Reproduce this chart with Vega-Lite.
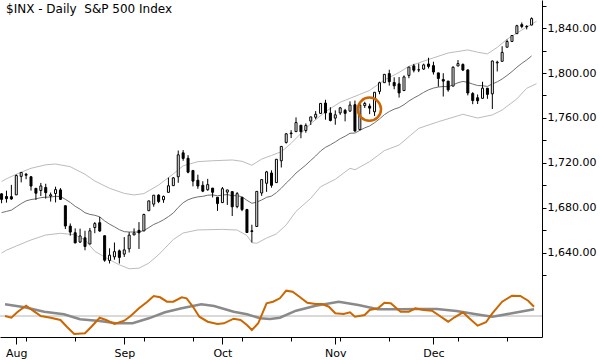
{
  "$schema": "https://vega.github.io/schema/vega-lite/v6.json",
  "width": 542,
  "height": 337,
  "autosize": {"type": "none"},
  "padding": {"left": 0, "top": 0, "right": 58, "bottom": 23},
  "background": "white",
  "config": {"view": {"stroke": null}, "font": "DejaVu Sans"},
  "datasets": {
    "ohlc": [
      {"i": -1, "d": "2013-07-29", "o": 1692.57, "h": 1693.16, "l": 1684.23, "c": 1687.65, "m": 1675.9},
      {"i": 0, "d": "2013-07-30", "o": 1690.2, "h": 1695.39, "l": 1684.78, "c": 1688.27, "m": 1676.98},
      {"i": 1, "d": "2013-07-31", "o": 1690.04, "h": 1700.55, "l": 1687.27, "c": 1688.04, "m": 1678.07},
      {"i": 2, "d": "2013-08-01", "o": 1691.68, "h": 1709.83, "l": 1691.68, "c": 1708.86, "m": 1681.02},
      {"i": 3, "d": "2013-08-02", "o": 1708.11, "h": 1711.62, "l": 1702.77, "c": 1711.62, "m": 1683.88},
      {"i": 4, "d": "2013-08-05", "o": 1709.99, "h": 1711.2, "l": 1705.6, "c": 1709.13, "m": 1686.34},
      {"i": 5, "d": "2013-08-06", "o": 1707.8, "h": 1707.8, "l": 1695.49, "c": 1699.51, "m": 1687.52},
      {"i": 6, "d": "2013-08-07", "o": 1697.47, "h": 1697.47, "l": 1687.23, "c": 1693.15, "m": 1688.11},
      {"i": 7, "d": "2013-08-08", "o": 1695.55, "h": 1702.28, "l": 1690.65, "c": 1699.62, "m": 1689.2},
      {"i": 8, "d": "2013-08-09", "o": 1698.26, "h": 1701.53, "l": 1688.33, "c": 1693.65, "m": 1689.59},
      {"i": 9, "d": "2013-08-12", "o": 1690.64, "h": 1693.72, "l": 1685.7, "c": 1691.73, "m": 1689.79},
      {"i": 10, "d": "2013-08-13", "o": 1692.89, "h": 1698.96, "l": 1684.98, "c": 1696.35, "m": 1690.38},
      {"i": 11, "d": "2013-08-14", "o": 1696.07, "h": 1697.69, "l": 1687.16, "c": 1687.71, "m": 1690.18},
      {"i": 12, "d": "2013-08-15", "o": 1682.02, "h": 1682.02, "l": 1661.31, "c": 1664.0, "m": 1687.72},
      {"i": 13, "d": "2013-08-16", "o": 1663.9, "h": 1666.25, "l": 1655.42, "c": 1658.59, "m": 1684.96},
      {"i": 14, "d": "2013-08-19", "o": 1658.02, "h": 1661.89, "l": 1648.71, "c": 1648.97, "m": 1681.51},
      {"i": 15, "d": "2013-08-20", "o": 1649.71, "h": 1661.64, "l": 1648.99, "c": 1655.16, "m": 1678.95},
      {"i": 16, "d": "2013-08-21", "o": 1653.5, "h": 1659.74, "l": 1642.44, "c": 1645.76, "m": 1675.8},
      {"i": 17, "d": "2013-08-22", "o": 1647.95, "h": 1662.26, "l": 1647.95, "c": 1659.71, "m": 1674.32},
      {"i": 18, "d": "2013-08-23", "o": 1662.62, "h": 1667.48, "l": 1657.59, "c": 1666.15, "m": 1673.54},
      {"i": 19, "d": "2013-08-26", "o": 1666.93, "h": 1672.07, "l": 1658.78, "c": 1659.53, "m": 1672.16},
      {"i": 20, "d": "2013-08-27", "o": 1655.35, "h": 1655.35, "l": 1632.21, "c": 1633.62, "m": 1668.51},
      {"i": 21, "d": "2013-08-28", "o": 1633.39, "h": 1644.16, "l": 1630.66, "c": 1638.04, "m": 1665.66},
      {"i": 22, "d": "2013-08-29", "o": 1636.6, "h": 1649.31, "l": 1634.02, "c": 1641.2, "m": 1663.29},
      {"i": 23, "d": "2013-08-30", "o": 1641.91, "h": 1643.08, "l": 1630.66, "c": 1636.08, "m": 1660.73},
      {"i": 24, "d": "2013-09-03", "o": 1639.01, "h": 1654.18, "l": 1636.51, "c": 1642.77, "m": 1658.96},
      {"i": 25, "d": "2013-09-04", "o": 1643.71, "h": 1658.48, "l": 1640.45, "c": 1655.88, "m": 1658.66},
      {"i": 26, "d": "2013-09-05", "o": 1656.08, "h": 1661.88, "l": 1655.87, "c": 1657.85, "m": 1658.66},
      {"i": 27, "d": "2013-09-06", "o": 1660.18, "h": 1667.46, "l": 1643.61, "c": 1657.94, "m": 1658.56},
      {"i": 28, "d": "2013-09-09", "o": 1659.6, "h": 1674.91, "l": 1659.6, "c": 1674.23, "m": 1660.04},
      {"i": 29, "d": "2013-09-10", "o": 1677.58, "h": 1686.43, "l": 1677.58, "c": 1686.33, "m": 1662.6},
      {"i": 30, "d": "2013-09-11", "o": 1683.42, "h": 1691.39, "l": 1681.12, "c": 1691.39, "m": 1665.36},
      {"i": 31, "d": "2013-09-12", "o": 1691.47, "h": 1692.22, "l": 1684.33, "c": 1685.77, "m": 1667.23},
      {"i": 32, "d": "2013-09-13", "o": 1687.36, "h": 1691.0, "l": 1684.59, "c": 1690.27, "m": 1669.5},
      {"i": 33, "d": "2013-09-16", "o": 1693.92, "h": 1706.98, "l": 1693.92, "c": 1699.74, "m": 1672.35},
      {"i": 34, "d": "2013-09-17", "o": 1699.86, "h": 1707.54, "l": 1699.86, "c": 1706.79, "m": 1675.6},
      {"i": 35, "d": "2013-09-18", "o": 1707.75, "h": 1731.1, "l": 1702.44, "c": 1727.24, "m": 1680.53},
      {"i": 36, "d": "2013-09-19", "o": 1729.03, "h": 1731.51, "l": 1722.0, "c": 1724.1, "m": 1684.66},
      {"i": 37, "d": "2013-09-20", "o": 1724.2, "h": 1726.95, "l": 1710.86, "c": 1711.86, "m": 1687.33},
      {"i": 38, "d": "2013-09-23", "o": 1713.37, "h": 1713.37, "l": 1699.24, "c": 1703.91, "m": 1688.9},
      {"i": 39, "d": "2013-09-24", "o": 1704.66, "h": 1709.62, "l": 1697.07, "c": 1699.56, "m": 1689.89},
      {"i": 40, "d": "2013-09-25", "o": 1700.15, "h": 1703.78, "l": 1694.1, "c": 1694.98, "m": 1690.38},
      {"i": 41, "d": "2013-09-26", "o": 1696.24, "h": 1705.89, "l": 1695.31, "c": 1700.79, "m": 1691.36},
      {"i": 42, "d": "2013-09-27", "o": 1697.69, "h": 1697.69, "l": 1689.4, "c": 1693.97, "m": 1691.66},
      {"i": 43, "d": "2013-09-30", "o": 1689.55, "h": 1689.55, "l": 1677.47, "c": 1683.93, "m": 1690.87},
      {"i": 44, "d": "2013-10-01", "o": 1684.77, "h": 1698.7, "l": 1684.44, "c": 1697.18, "m": 1691.46},
      {"i": 45, "d": "2013-10-02", "o": 1694.12, "h": 1696.06, "l": 1682.73, "c": 1696.06, "m": 1691.95},
      {"i": 46, "d": "2013-10-03", "o": 1694.56, "h": 1694.56, "l": 1672.9, "c": 1681.08, "m": 1690.87},
      {"i": 47, "d": "2013-10-04", "o": 1681.21, "h": 1694.16, "l": 1679.77, "c": 1692.74, "m": 1691.07},
      {"i": 48, "d": "2013-10-07", "o": 1689.44, "h": 1689.44, "l": 1677.18, "c": 1678.58, "m": 1689.89},
      {"i": 49, "d": "2013-10-08", "o": 1678.68, "h": 1679.24, "l": 1657.8, "c": 1658.22, "m": 1686.83},
      {"i": 50, "d": "2013-10-09", "o": 1659.74, "h": 1665.13, "l": 1649.37, "c": 1659.15, "m": 1684.17},
      {"i": 51, "d": "2013-10-10", "o": 1663.56, "h": 1694.77, "l": 1663.56, "c": 1694.77, "m": 1685.25},
      {"i": 52, "d": "2013-10-11", "o": 1693.32, "h": 1705.49, "l": 1690.79, "c": 1705.25, "m": 1687.13},
      {"i": 53, "d": "2013-10-14", "o": 1701.96, "h": 1712.96, "l": 1694.35, "c": 1712.09, "m": 1689.49},
      {"i": 54, "d": "2013-10-15", "o": 1711.13, "h": 1713.5, "l": 1698.09, "c": 1700.19, "m": 1690.58},
      {"i": 55, "d": "2013-10-16", "o": 1702.58, "h": 1723.53, "l": 1702.58, "c": 1723.32, "m": 1693.63},
      {"i": 56, "d": "2013-10-17", "o": 1721.97, "h": 1735.05, "l": 1716.01, "c": 1734.75, "m": 1697.57},
      {"i": 57, "d": "2013-10-18", "o": 1738.27, "h": 1746.73, "l": 1737.3, "c": 1745.93, "m": 1702.2},
      {"i": 58, "d": "2013-10-21", "o": 1746.62, "h": 1749.17, "l": 1742.16, "c": 1746.09, "m": 1706.34},
      {"i": 59, "d": "2013-10-22", "o": 1747.88, "h": 1760.54, "l": 1747.88, "c": 1755.95, "m": 1711.06},
      {"i": 60, "d": "2013-10-23", "o": 1753.59, "h": 1753.59, "l": 1741.99, "c": 1747.78, "m": 1714.61},
      {"i": 61, "d": "2013-10-24", "o": 1748.87, "h": 1755.23, "l": 1746.92, "c": 1753.39, "m": 1718.25},
      {"i": 62, "d": "2013-10-25", "o": 1757.27, "h": 1761.02, "l": 1753.76, "c": 1760.97, "m": 1722.29},
      {"i": 63, "d": "2013-10-28", "o": 1760.63, "h": 1766.12, "l": 1758.9, "c": 1763.28, "m": 1726.23},
      {"i": 64, "d": "2013-10-29", "o": 1764.09, "h": 1773.11, "l": 1764.09, "c": 1772.97, "m": 1730.67},
      {"i": 65, "d": "2013-10-30", "o": 1773.29, "h": 1776.19, "l": 1758.48, "c": 1764.46, "m": 1733.92},
      {"i": 66, "d": "2013-10-31", "o": 1764.39, "h": 1769.6, "l": 1756.98, "c": 1757.79, "m": 1736.18},
      {"i": 67, "d": "2013-11-01", "o": 1759.92, "h": 1766.78, "l": 1754.01, "c": 1762.82, "m": 1738.74},
      {"i": 68, "d": "2013-11-04", "o": 1764.55, "h": 1769.85, "l": 1762.74, "c": 1769.01, "m": 1741.6},
      {"i": 69, "d": "2013-11-05", "o": 1766.78, "h": 1768.12, "l": 1757.02, "c": 1764.13, "m": 1743.77},
      {"i": 70, "d": "2013-11-06", "o": 1766.13, "h": 1774.73, "l": 1765.53, "c": 1771.53, "m": 1746.43},
      {"i": 71, "d": "2013-11-07", "o": 1771.78, "h": 1775.52, "l": 1747.61, "c": 1748.54, "m": 1746.62},
      {"i": 72, "d": "2013-11-08", "o": 1749.74, "h": 1771.82, "l": 1749.02, "c": 1771.65, "m": 1748.99},
      {"i": 73, "d": "2013-11-11", "o": 1771.01, "h": 1774.44, "l": 1768.93, "c": 1772.91, "m": 1751.25},
      {"i": 74, "d": "2013-11-12", "o": 1770.57, "h": 1772.8, "l": 1763.46, "c": 1768.77, "m": 1752.93},
      {"i": 75, "d": "2013-11-13", "o": 1765.5, "h": 1782.87, "l": 1761.83, "c": 1782.87, "m": 1755.78},
      {"i": 76, "d": "2013-11-14", "o": 1783.61, "h": 1792.26, "l": 1781.12, "c": 1791.36, "m": 1759.13},
      {"i": 77, "d": "2013-11-15", "o": 1791.4, "h": 1798.85, "l": 1791.4, "c": 1798.81, "m": 1762.97},
      {"i": 78, "d": "2013-11-18", "o": 1799.44, "h": 1802.9, "l": 1788.78, "c": 1792.26, "m": 1765.73},
      {"i": 79, "d": "2013-11-19", "o": 1791.53, "h": 1796.18, "l": 1785.55, "c": 1788.65, "m": 1767.9},
      {"i": 80, "d": "2013-11-20", "o": 1790.35, "h": 1796.39, "l": 1778.17, "c": 1782.25, "m": 1769.28},
      {"i": 81, "d": "2013-11-21", "o": 1784.37, "h": 1797.8, "l": 1784.37, "c": 1796.51, "m": 1771.84},
      {"i": 82, "d": "2013-11-22", "o": 1797.85, "h": 1805.37, "l": 1795.38, "c": 1805.29, "m": 1775.09},
      {"i": 83, "d": "2013-11-25", "o": 1806.33, "h": 1808.10, "l": 1800.58, "c": 1802.48, "m": 1777.75},
      {"i": 84, "d": "2013-11-26", "o": 1802.87, "h": 1808.42, "l": 1800.77, "c": 1802.75, "m": 1780.11},
      {"i": 85, "d": "2013-11-27", "o": 1803.48, "h": 1808.27, "l": 1802.77, "c": 1807.23, "m": 1782.77},
      {"i": 86, "d": "2013-11-29", "o": 1808.01, "h": 1813.55, "l": 1803.98, "c": 1805.81, "m": 1785.04},
      {"i": 87, "d": "2013-12-02", "o": 1806.55, "h": 1810.02, "l": 1798.60, "c": 1800.90, "m": 1786.61},
      {"i": 88, "d": "2013-12-03", "o": 1800.10, "h": 1800.10, "l": 1787.85, "c": 1795.15, "m": 1787.5},
      {"i": 89, "d": "2013-12-04", "o": 1794.15, "h": 1799.80, "l": 1779.09, "c": 1792.81, "m": 1787.99},
      {"i": 90, "d": "2013-12-05", "o": 1792.82, "h": 1792.82, "l": 1783.38, "c": 1785.03, "m": 1787.8},
      {"i": 91, "d": "2013-12-06", "o": 1788.36, "h": 1806.04, "l": 1788.36, "c": 1805.09, "m": 1789.47},
      {"i": 92, "d": "2013-12-09", "o": 1806.21, "h": 1811.52, "l": 1806.21, "c": 1808.37, "m": 1791.34},
      {"i": 93, "d": "2013-12-10", "o": 1807.60, "h": 1808.52, "l": 1801.75, "c": 1802.62, "m": 1792.52},
      {"i": 94, "d": "2013-12-11", "o": 1802.76, "h": 1802.97, "l": 1780.09, "c": 1782.22, "m": 1791.64},
      {"i": 95, "d": "2013-12-12", "o": 1781.71, "h": 1782.99, "l": 1772.28, "c": 1775.50, "m": 1790.16},
      {"i": 96, "d": "2013-12-13", "o": 1777.98, "h": 1780.92, "l": 1772.45, "c": 1775.32, "m": 1788.88},
      {"i": 97, "d": "2013-12-16", "o": 1777.48, "h": 1792.22, "l": 1777.48, "c": 1786.54, "m": 1788.68},
      {"i": 98, "d": "2013-12-17", "o": 1786.47, "h": 1786.77, "l": 1777.05, "c": 1781.00, "m": 1788.09},
      {"i": 99, "d": "2013-12-18", "o": 1781.46, "h": 1811.08, "l": 1767.99, "c": 1810.65, "m": 1790.26},
      {"i": 100, "d": "2013-12-19", "o": 1809.00, "h": 1810.88, "l": 1801.35, "c": 1809.60, "m": 1792.13},
      {"i": 101, "d": "2013-12-20", "o": 1810.39, "h": 1823.75, "l": 1810.25, "c": 1818.32, "m": 1794.69},
      {"i": 102, "d": "2013-12-23", "o": 1822.92, "h": 1829.75, "l": 1822.92, "c": 1827.99, "m": 1797.84},
      {"i": 103, "d": "2013-12-24", "o": 1828.02, "h": 1833.32, "l": 1828.02, "c": 1833.32, "m": 1801.29},
      {"i": 104, "d": "2013-12-26", "o": 1834.96, "h": 1842.84, "l": 1834.96, "c": 1842.02, "m": 1805.13},
      {"i": 105, "d": "2013-12-27", "o": 1842.97, "h": 1844.89, "l": 1839.81, "c": 1841.40, "m": 1808.58},
      {"i": 106, "d": "2013-12-30", "o": 1841.47, "h": 1842.47, "l": 1838.77, "c": 1841.07, "m": 1811.63},
      {"i": 107, "d": "2013-12-31", "o": 1842.61, "h": 1849.44, "l": 1842.41, "c": 1848.36, "m": 1815.18}
    ],
    "upper": [
      {"i": -1, "p": 1703.5}, {"i": 0, "p": 1706}, {"i": 2, "p": 1710}, {"i": 5, "p": 1715.3}, {"i": 8, "p": 1718.4},
      {"i": 10, "p": 1719.1}, {"i": 13, "p": 1716.7}, {"i": 16, "p": 1710}, {"i": 18, "p": 1704}, {"i": 21, "p": 1697.5},
      {"i": 24, "p": 1693}, {"i": 26, "p": 1691.6}, {"i": 28, "p": 1692.8}, {"i": 31, "p": 1700.4}, {"i": 34, "p": 1710.3},
      {"i": 36, "p": 1717.5}, {"i": 39, "p": 1721.2}, {"i": 42, "p": 1722}, {"i": 46, "p": 1722.7}, {"i": 48, "p": 1721.5},
      {"i": 50, "p": 1718}, {"i": 52, "p": 1723.5}, {"i": 54, "p": 1726.7}, {"i": 56, "p": 1730}, {"i": 58, "p": 1737.5},
      {"i": 62, "p": 1755}, {"i": 65, "p": 1765.6}, {"i": 68, "p": 1774}, {"i": 72, "p": 1781}, {"i": 74, "p": 1784.5},
      {"i": 77, "p": 1793.8}, {"i": 80, "p": 1800.5}, {"i": 82, "p": 1806}, {"i": 86, "p": 1812}, {"i": 90, "p": 1817.8},
      {"i": 94, "p": 1820.5}, {"i": 96, "p": 1818.5}, {"i": 98, "p": 1817}, {"i": 100, "p": 1822.8}, {"i": 102, "p": 1830},
      {"i": 105, "p": 1838.2}, {"i": 108, "p": 1846}
    ],
    "lower": [
      {"i": -1, "p": 1640}, {"i": 0, "p": 1642.5}, {"i": 2, "p": 1646.2}, {"i": 5, "p": 1651.6}, {"i": 8, "p": 1656},
      {"i": 11, "p": 1657.5}, {"i": 14, "p": 1656.2}, {"i": 16, "p": 1651.6}, {"i": 18, "p": 1641.5}, {"i": 21, "p": 1634},
      {"i": 23, "p": 1629.5}, {"i": 25, "p": 1626}, {"i": 27, "p": 1626.5}, {"i": 29, "p": 1631}, {"i": 31, "p": 1638.5},
      {"i": 34, "p": 1652}, {"i": 36, "p": 1657.8}, {"i": 39, "p": 1660.5}, {"i": 44, "p": 1661}, {"i": 47, "p": 1660.4},
      {"i": 49, "p": 1655.5}, {"i": 50, "p": 1649.2}, {"i": 51, "p": 1648.6}, {"i": 53, "p": 1653.3}, {"i": 55, "p": 1657},
      {"i": 57, "p": 1665}, {"i": 59, "p": 1677}, {"i": 62, "p": 1688.6}, {"i": 64, "p": 1698.9}, {"i": 67, "p": 1705.5},
      {"i": 70, "p": 1715.3}, {"i": 71, "p": 1714}, {"i": 74, "p": 1721.2}, {"i": 77, "p": 1731}, {"i": 80, "p": 1736},
      {"i": 84, "p": 1750.8}, {"i": 88, "p": 1756.7}, {"i": 93, "p": 1763.3}, {"i": 96, "p": 1760}, {"i": 99, "p": 1762.7},
      {"i": 101, "p": 1767.1}, {"i": 104, "p": 1777}, {"i": 106, "p": 1786.4}, {"i": 108, "p": 1790.5}
    ],
    "note": [{"i": 73.95, "p": 1767.8}],
    "heading": [{"i": -0.3, "p": 1853.3, "t": "$INX - Daily\u00a0 S&P 500 Index"}],
    "fast": [
      {"i": -0.3, "v": 0}, {"i": 1, "v": -1.7}, {"i": 2.3, "v": 4.3}, {"i": 4, "v": 10.3}, {"i": 5.7, "v": 4.3},
      {"i": 7, "v": 0}, {"i": 9, "v": -1.7}, {"i": 11, "v": -4}, {"i": 12.3, "v": -10.7}, {"i": 13.8, "v": -18},
      {"i": 16, "v": -17.3}, {"i": 17.3, "v": -10.7}, {"i": 19, "v": -1.7}, {"i": 20.3, "v": -4}, {"i": 22, "v": -8},
      {"i": 24, "v": -4.7}, {"i": 25.3, "v": 0}, {"i": 27, "v": 7.7}, {"i": 28.7, "v": 14.3}, {"i": 30, "v": 20},
      {"i": 31.3, "v": 18.7}, {"i": 32.7, "v": 14.3}, {"i": 34, "v": 14.3}, {"i": 35.7, "v": 18.7}, {"i": 36.7, "v": 17.7},
      {"i": 38, "v": 9.3}, {"i": 39.3, "v": -0.7}, {"i": 41, "v": -5.7}, {"i": 43, "v": -8}, {"i": 44.3, "v": -7.3},
      {"i": 46.3, "v": -2.7}, {"i": 47.7, "v": -4}, {"i": 49, "v": -9}, {"i": 50, "v": -14}, {"i": 51.3, "v": -7.3},
      {"i": 53, "v": 12.7}, {"i": 54.3, "v": 14.3}, {"i": 55.7, "v": 17.7}, {"i": 57, "v": 25.3}, {"i": 58.3, "v": 24.3},
      {"i": 59.7, "v": 19.3}, {"i": 61.3, "v": 13.3}, {"i": 63, "v": 12}, {"i": 64.3, "v": 12}, {"i": 65.7, "v": 9.3},
      {"i": 67, "v": 2.7}, {"i": 68.7, "v": 2}, {"i": 70, "v": 3.7}, {"i": 71, "v": -0.7}, {"i": 73, "v": 1},
      {"i": 74, "v": 6}, {"i": 75.7, "v": 7.7}, {"i": 77, "v": 13.3}, {"i": 78.3, "v": 12.7}, {"i": 80.3, "v": 4.3},
      {"i": 82, "v": 4.3}, {"i": 83.3, "v": 7.7}, {"i": 85, "v": 6}, {"i": 86.7, "v": 5.3}, {"i": 88.3, "v": 0},
      {"i": 90, "v": -5.7}, {"i": 91.3, "v": -1.3}, {"i": 93, "v": 3.7}, {"i": 94.3, "v": -2.3}, {"i": 96, "v": -9.7},
      {"i": 97.7, "v": -6.3}, {"i": 99, "v": 2.7}, {"i": 101, "v": 14.3}, {"i": 103, "v": 20.3}, {"i": 104.7, "v": 20},
      {"i": 106.3, "v": 15.3}, {"i": 107.5, "v": 9.3}
    ],
    "slow": [
      {"i": -0.3, "v": 11.7}, {"i": 3.7, "v": 8.7}, {"i": 7.7, "v": 4.3}, {"i": 11.7, "v": 1.7}, {"i": 15, "v": -3.3},
      {"i": 19, "v": -5}, {"i": 22.3, "v": -7.3}, {"i": 25.7, "v": -7.3}, {"i": 29, "v": -2.3}, {"i": 32.3, "v": 3.7},
      {"i": 35.7, "v": 7.7}, {"i": 39.7, "v": 11.7}, {"i": 42.3, "v": 10}, {"i": 46.3, "v": 4.3}, {"i": 49, "v": 1.7},
      {"i": 51.7, "v": -2.3}, {"i": 53.7, "v": -3}, {"i": 55.7, "v": -1.7}, {"i": 59, "v": 5.3}, {"i": 63, "v": 10.3},
      {"i": 67.7, "v": 14.3}, {"i": 71.7, "v": 11}, {"i": 75.7, "v": 6.7}, {"i": 80.3, "v": 6.7}, {"i": 84.3, "v": 7},
      {"i": 87.7, "v": 7}, {"i": 91.7, "v": 5}, {"i": 95.7, "v": 1.7}, {"i": 99, "v": -0.7}, {"i": 103, "v": 2.7},
      {"i": 107.5, "v": 6.7}
    ],
    "zero": [{"v": 0}]
  },
  "layer": [
    {
      "layer": [
        {
          "data": {"name": "upper"},
          "mark": {"type": "line", "color": "#bcbcbc", "strokeWidth": 1, "clip": true},
          "encoding": {
            "x": {"field": "i", "type": "quantitative", "scale": {"domain": [-0.3, 108.1], "nice": false, "zero": false},
              "axis": {"orient": "bottom", "values": [2, 24, 44, 67, 87], "labelExpr": "datum.value == 2 ? 'Aug' : datum.value == 24 ? 'Sep' : datum.value == 44 ? 'Oct' : datum.value == 67 ? 'Nov' : 'Dec'", "tickSize": 7, "labelPadding": 3, "labelFontSize": 11, "labelFont": "DejaVu Sans", "labelColor": "#000000", "domainColor": "#000000", "tickColor": "#000000", "grid": false, "title": null, "labelFlush": false, "labelOverlap": false}},
            "y": {"field": "p", "type": "quantitative", "scale": {"domain": [1565.333, 1864.889], "nice": false, "zero": false},
              "axis": {"orient": "right", "values": [1640, 1680, 1720, 1760, 1800, 1840], "format": ",.2f", "tickSize": 4, "labelPadding": 1, "labelFontSize": 11, "labelFont": "DejaVu Sans", "labelColor": "#000000", "labelAlign": "left", "labelBaseline": "middle", "labelOverlap": false, "labelFlush": false, "domainColor": "#000000", "tickColor": "#000000", "grid": false, "title": null}}
          }
        },
        {
          "data": {"name": "lower"},
          "mark": {"type": "line", "color": "#bcbcbc", "strokeWidth": 1, "clip": true},
          "encoding": {
            "x": {"field": "i", "type": "quantitative", "scale": {"domain": [-0.3, 108.1], "nice": false, "zero": false}},
            "y": {"field": "p", "type": "quantitative", "scale": {"domain": [1565.333, 1864.889], "nice": false, "zero": false},
              "axis": {"orient": "right", "values": [1620, 1660, 1700, 1740, 1780, 1820, 1860], "labels": false, "domain": false, "tickSize": 4, "tickColor": "#000000", "grid": false, "title": null}}
          }
        },
        {
          "data": {"name": "ohlc"},
          "mark": {"type": "line", "color": "#707070", "strokeWidth": 1, "clip": true},
          "encoding": {
            "x": {"field": "i", "type": "quantitative", "scale": {"domain": [-0.3, 108.1], "nice": false, "zero": false}},
            "y": {"field": "m", "type": "quantitative", "scale": {"domain": [1565.333, 1864.889], "nice": false, "zero": false}, "axis": null}
          }
        },
        {
          "data": {"name": "ohlc"},
          "mark": {"type": "rule", "color": "#000000", "strokeWidth": 1, "clip": true},
          "encoding": {
            "x": {"field": "i", "type": "quantitative", "scale": {"domain": [-0.3, 108.1], "nice": false, "zero": false}},
            "y": {"field": "l", "type": "quantitative", "scale": {"domain": [1565.333, 1864.889], "nice": false, "zero": false}, "axis": null},
            "y2": {"field": "h"}
          }
        },
        {
          "data": {"name": "ohlc"},
          "mark": {"type": "bar", "size": 2, "stroke": "#000000", "strokeWidth": 1, "clip": true},
          "encoding": {
            "x": {"field": "i", "type": "quantitative", "scale": {"domain": [-0.3, 108.1], "nice": false, "zero": false}},
            "y": {"field": "o", "type": "quantitative", "scale": {"domain": [1565.333, 1864.889], "nice": false, "zero": false}, "axis": null},
            "y2": {"field": "c"},
            "fill": {"condition": {"test": "datum.c >= datum.o", "value": "#ffffff"}, "value": "#000000"}
          }
        },
        {
          "data": {"name": "note"},
          "mark": {"type": "point", "shape": "circle", "filled": false, "size": 540, "stroke": "#cc6600", "strokeWidth": 2.5, "opacity": 1},
          "encoding": {
            "x": {"field": "i", "type": "quantitative", "scale": {"domain": [-0.3, 108.1], "nice": false, "zero": false}},
            "y": {"field": "p", "type": "quantitative", "scale": {"domain": [1565.333, 1864.889], "nice": false, "zero": false}, "axis": null}
          }
        },
        {
          "data": {"name": "heading"},
          "mark": {"type": "text", "align": "left", "baseline": "alphabetic", "dx": 1, "fontSize": 12, "font": "DejaVu Sans", "color": "#000000"},
          "encoding": {
            "x": {"field": "i", "type": "quantitative", "scale": {"domain": [-0.3, 108.1], "nice": false, "zero": false}},
            "y": {"field": "p", "type": "quantitative", "scale": {"domain": [1565.333, 1864.889], "nice": false, "zero": false}, "axis": null},
            "text": {"field": "t"}
          }
        }
      ],
      "resolve": {"axis": {"y": "independent"}}
    },
    {
      "layer": [
        {
          "data": {"name": "zero"},
          "mark": {"type": "rule", "color": "#b4b4b4", "strokeWidth": 1},
          "encoding": {
            "y": {"field": "v", "type": "quantitative", "scale": {"domain": [-21, 316], "nice": false, "zero": false}, "axis": null}
          }
        },
        {
          "data": {"name": "slow"},
          "mark": {"type": "line", "color": "#8a8a8a", "strokeWidth": 2.5, "clip": true},
          "encoding": {
            "x": {"field": "i", "type": "quantitative", "scale": {"domain": [-0.3, 108.1], "nice": false, "zero": false},
              "axis": {"orient": "bottom", "values": [4, 9, 14, 19, 28, 33, 38, 43, 48, 53, 58, 63, 68, 73, 78, 83, 92, 97, 102, 106], "tickSize": 4, "labels": false, "domain": false, "grid": false, "title": null, "tickColor": "#000000"}},
            "y": {"field": "v", "type": "quantitative", "scale": {"domain": [-21, 316], "nice": false, "zero": false}, "axis": null}
          }
        },
        {
          "data": {"name": "fast"},
          "mark": {"type": "line", "color": "#cc6600", "strokeWidth": 2, "clip": true},
          "encoding": {
            "x": {"field": "i", "type": "quantitative", "scale": {"domain": [-0.3, 108.1], "nice": false, "zero": false}},
            "y": {"field": "v", "type": "quantitative", "scale": {"domain": [-21, 316], "nice": false, "zero": false}, "axis": null}
          }
        }
      ]
    }
  ],
  "resolve": {"scale": {"y": "independent"}, "axis": {"x": "independent"}}
}
